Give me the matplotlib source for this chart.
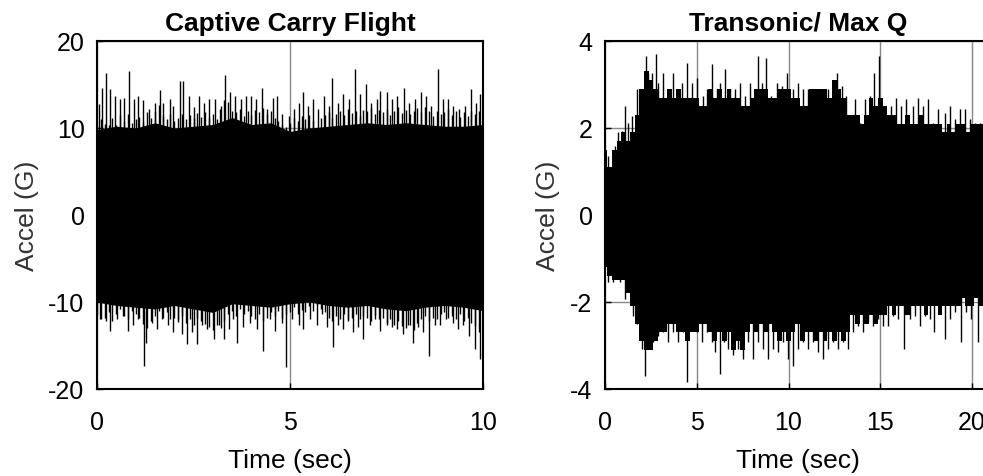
import matplotlib.pyplot as plt
import numpy as np

plt.rcParams['font.family'] = ['Liberation Sans', 'DejaVu Sans']
plt.rcParams['axes.unicode_minus'] = False

# ---- Captive Carry Flight (left) ----
# solid core of the trace (every 0.5 s)
cc_core_t = np.arange(0, 10.001, 0.5)
cc_core_hi = [9.8, 10.2, 10.0, 10.6, 10.0, 10.2, 10.4, 11.2, 10.4, 10.6, 9.6,
              10.0, 10.2, 10.4, 10.6, 10.4, 10.6, 10.4, 10.2, 10.2, 10.4]
cc_core_lo = [-10.0, -10.4, -10.6, -10.8, -10.4, -10.8, -11.2, -10.2, -10.4, -10.6, -10.2,
              -10.0, -10.4, -10.6, -10.4, -10.8, -11.0, -10.6, -10.4, -10.6, -11.0]

# fringe peaks (every 0.1 s)
cc_env_t = np.arange(0, 10.001, 0.1)
cc_env_hi = [10.2, 11.0, 10.5, 10.4, 11.2, 10.3, 11.5, 10.8, 11.6, 10.6,
             11.0, 11.3, 10.7, 11.8, 11.2, 12.0, 12.6, 11.4, 11.0, 11.6,
             10.8, 11.2, 11.6, 11.0, 11.5, 11.1, 11.7, 11.3, 11.8, 11.2,
             11.6, 11.0, 12.5, 13.2, 13.0, 12.0, 11.8, 12.2, 11.4, 11.9,
             11.5, 12.1, 11.8, 12.3, 11.6, 12.0, 11.2, 10.8, 10.4, 10.1,
             10.6, 11.2, 10.8, 11.4, 11.0, 11.5, 10.9, 9.6, 11.2, 11.5,
             11.8, 11.2, 11.6, 12.0, 11.5, 12.2, 11.7, 12.0, 11.4, 12.1,
             11.9, 12.3, 11.6, 12.1, 11.8, 12.2, 11.5, 11.9, 12.4, 11.7,
             12.1, 11.6, 12.0, 12.3, 11.8, 12.4, 11.9, 11.4, 12.0, 11.6,
             11.8, 12.2, 11.5, 11.9, 11.3, 11.8, 11.4, 12.0, 11.6, 11.9,
             12.0]
cc_env_lo = [-11.5, -12.0, -11.8, -11.2, -12.2, -11.4, -10.8, -11.6, -12.0, -11.0,
             -11.4, -11.8, -12.5, -13.0, -12.2, -11.6, -11.0, -11.8, -11.2, -12.0,
             -11.8, -12.3, -11.6, -12.4, -12.0, -12.6, -11.8, -12.2, -12.5, -12.9,
             -13.2, -12.6, -13.0, -12.2, -11.4, -11.0, -11.6, -10.8, -11.4, -11.0,
             -11.6, -12.0, -11.4, -12.2, -11.8, -11.2, -11.6, -11.0, -11.8, -11.4,
             -11.2, -10.6, -11.4, -10.9, -11.2, -10.5, -11.0, -10.4, -10.8, -11.2,
             -11.8, -12.2, -11.6, -12.0, -11.4, -12.2, -11.8, -11.4, -12.0, -11.6,
             -11.8, -12.2, -11.5, -12.0, -11.8, -12.4, -12.0, -12.6, -12.2, -12.8,
             -13.0, -12.6, -13.2, -12.4, -12.0, -11.6, -12.2, -11.8, -12.0, -11.4,
             -11.2, -11.8, -11.6, -12.0, -11.4, -12.2, -11.8, -12.4, -12.8, -13.4,
             -14.0]

# tall isolated spikes
cc_up_t = [0.04, 0.13, 0.24, 0.34, 0.47, 0.60, 0.71, 0.84, 0.95, 1.05, 1.19, 1.34,
           1.51, 1.62, 1.72, 1.88, 1.98, 2.14, 2.24, 2.37, 2.50, 2.65, 2.78, 2.91,
           3.06, 3.19, 3.32, 3.45, 3.58, 3.72, 3.85, 3.98, 4.12, 4.27, 4.40, 4.55,
           4.66, 4.78, 4.98, 5.09, 5.22, 5.34, 5.47, 5.60, 5.73, 5.88, 6.00, 6.10,
           6.23, 6.38, 6.53, 6.68, 6.81, 6.97, 7.09, 7.24, 7.34, 7.50, 7.63, 7.78,
           7.96, 8.09, 8.23, 8.38, 8.53, 8.66, 8.84, 8.97, 9.09, 9.22, 9.38, 9.53,
           9.70, 9.81, 9.91]
cc_up_v = [12.7, 14.6, 16.3, 14.5, 13.7, 13.3, 13.5, 16.6, 13.3, 13.7, 13.2, 12.2,
           12.9, 14.4, 12.9, 13.3, 12.5, 15.4, 15.4, 13.7, 12.4, 13.7, 12.9, 13.3,
           13.3, 12.2, 16.1, 14.1, 13.7, 13.3, 13.7, 13.7, 13.3, 14.6, 12.2, 13.5,
           13.7, 11.6, 11.4, 12.2, 12.9, 14.1, 12.5, 13.3, 12.2, 13.7, 12.5, 15.8,
           12.9, 13.9, 13.3, 16.8, 13.9, 15.0, 12.9, 13.3, 14.3, 14.1, 13.3, 13.7,
           14.6, 12.9, 13.3, 14.1, 13.7, 12.5, 16.8, 13.3, 13.3, 12.5, 12.2, 12.5,
           14.5, 12.9, 13.9]
cc_dn_t = [0.09, 0.22, 0.34, 0.52, 0.67, 0.80, 0.93, 1.06, 1.21, 1.27, 1.42, 1.55,
           1.68, 1.85, 1.98, 2.11, 2.20, 2.33, 2.46, 2.59, 2.72, 2.84, 3.02, 3.15,
           3.28, 3.41, 3.53, 3.62, 3.79, 3.97, 4.14, 4.31, 4.48, 4.61, 4.78, 4.90,
           5.04, 5.22, 5.34, 5.52, 5.69, 5.84, 5.95, 6.12, 6.25, 6.38, 6.51, 6.64,
           6.77, 6.90, 7.07, 7.20, 7.33, 7.50, 7.63, 7.76, 7.93, 8.06, 8.19, 8.32,
           8.45, 8.60, 8.75, 8.88, 9.05, 9.22, 9.36, 9.48, 9.64, 9.78, 9.91]
cc_dn_v = [-12.0, -12.2, -13.3, -12.0, -11.6, -13.3, -12.7, -12.0, -17.3, -14.7, -12.4, -13.1,
           -12.0, -12.7, -13.5, -12.0, -13.7, -14.8, -13.5, -14.8, -12.7, -13.1, -14.3, -12.6,
           -14.3, -13.1, -12.0, -14.7, -12.9, -12.4, -13.1, -15.6, -12.0, -13.3, -12.4, -17.5,
           -12.0, -12.6, -13.1, -12.0, -12.7, -11.4, -12.9, -15.2, -12.6, -13.1, -12.0, -13.5,
           -12.9, -14.3, -12.6, -12.0, -13.3, -12.6, -12.9, -13.1, -13.7, -12.6, -14.7, -12.9,
           -13.5, -16.2, -12.6, -12.7, -12.0, -12.4, -13.1, -12.6, -13.9, -15.4, -16.6]

# ---- Transonic / Max Q (right) ----
tq_env_t = np.arange(0, 21.001, 0.25)
tq_env_hi = [1.5, 1.1, 1.5, 1.7, 1.9, 1.7, 1.9, 2.3, 2.9, 3.3, 3.1, 2.9,
             2.7, 2.7, 2.9, 2.7, 2.9, 2.7, 2.7, 2.7, 2.7, 2.5, 2.5, 2.9,
             2.7, 2.9, 2.7, 2.9, 2.7, 2.7, 2.5, 2.5, 2.7, 2.9, 2.9, 2.9,
             2.7, 2.7, 2.9, 2.9, 2.9, 2.7, 2.7, 2.5, 2.5, 2.9, 2.9, 2.9,
             2.9, 2.7, 3.1, 2.9, 2.7, 2.3, 2.3, 2.3, 2.1, 2.3, 2.7, 2.5,
             2.7, 2.5, 2.3, 2.3, 2.1, 2.1, 2.3, 2.1, 2.1, 2.3, 2.1, 2.1,
             2.1, 2.1, 1.9, 2.1, 1.9, 2.1, 2.1, 1.9, 2.1, 2.1, 2.1, 1.9, 2.1]
tq_env_lo = [-1.2, -1.4, -1.5, -1.5, -1.5, -1.8, -2.1, -2.5, -2.9, -3.1, -3.1, -2.9,
             -2.7, -2.7, -2.5, -2.5, -2.7, -2.7, -2.9, -2.7, -2.7, -2.5, -2.5, -2.7,
             -2.9, -2.7, -2.9, -2.7, -3.1, -2.9, -3.1, -2.7, -2.5, -2.7, -2.5, -2.7,
             -2.5, -2.7, -2.9, -2.7, -2.9, -2.7, -2.5, -2.9, -2.7, -2.7, -2.9, -2.7,
             -2.9, -2.7, -2.9, -2.7, -2.9, -2.7, -2.3, -2.5, -2.3, -2.5, -2.3, -2.5,
             -2.3, -2.3, -2.1, -2.3, -2.1, -2.1, -2.3, -2.1, -2.1, -2.1, -2.3, -2.1,
             -2.1, -2.3, -2.1, -2.1, -2.1, -2.1, -1.9, -2.1, -2.1, -1.9, -2.1, -2.1, -2.1]

tq_up_t = [0.18, 0.54, 0.73, 0.90, 1.09, 1.27, 1.45, 1.72, 2.00, 2.21, 2.36, 2.54,
           2.76, 2.90, 3.18, 3.45, 3.68, 3.90, 4.17, 4.48, 4.72, 5.03, 5.35, 5.57,
           5.84, 6.08, 6.26, 6.53, 6.80, 7.08, 7.35, 7.62, 7.89, 8.17, 8.35, 8.53,
           8.80, 9.07, 9.35, 9.67, 9.93, 10.25, 10.53, 10.80, 11.07, 11.34, 11.62, 11.89,
           12.16, 12.43, 12.65, 12.89, 13.16, 13.43, 13.61, 13.88, 14.16, 14.43, 14.65, 14.92,
           15.25, 15.61, 15.88, 16.15, 16.42, 16.79, 17.06, 17.33, 17.60, 17.88, 18.15, 18.51,
           18.78, 19.06, 19.33, 19.60, 19.87, 20.15, 20.42]
tq_up_v = [1.36, 1.59, 1.90, 1.93, 2.50, 2.12, 2.28, 2.90, 2.90, 3.66, 3.27, 3.27,
           3.69, 3.04, 3.27, 2.81, 3.27, 2.90, 3.04, 3.50, 3.04, 3.16, 2.74, 2.90,
           3.47, 2.90, 3.04, 3.35, 2.90, 2.90, 3.04, 2.74, 3.04, 2.90, 3.66, 3.04,
           3.62, 2.74, 3.04, 2.97, 3.27, 2.90, 3.04, 2.90, 2.90, 2.90, 2.90, 2.90,
           2.90, 3.04, 3.27, 2.97, 2.74, 2.12, 2.66, 2.12, 2.66, 2.74, 3.27, 3.66,
           2.50, 2.50, 2.70, 2.50, 2.66, 2.50, 2.70, 2.50, 2.66, 2.12, 2.43, 2.35,
           2.50, 2.20, 2.43, 2.43, 2.20, 2.12, 2.12]
tq_dn_t = [0.18, 0.45, 0.82, 1.09, 1.36, 1.54, 1.72, 2.00, 2.18, 2.36, 2.63, 2.90,
           3.18, 3.45, 3.72, 3.99, 4.23, 4.48, 4.72, 4.99, 5.26, 5.54, 5.81, 5.99,
           6.26, 6.48, 6.72, 6.99, 7.26, 7.53, 7.80, 8.08, 8.35, 8.62, 8.89, 9.17,
           9.44, 9.71, 9.98, 10.25, 10.53, 10.80, 11.07, 11.34, 11.62, 11.89, 12.16, 12.43,
           12.70, 12.98, 13.25, 13.52, 13.79, 14.07, 14.34, 14.61, 14.88, 15.15, 15.43, 15.70,
           15.97, 16.30, 16.61, 16.88, 17.15, 17.42, 17.69, 17.93, 18.24, 18.51, 18.78, 19.06,
           19.38, 19.69, 19.96, 20.33]
tq_dn_v = [-1.55, -1.55, -1.55, -1.93, -1.78, -2.32, -2.51, -3.08, -3.69, -3.08, -2.93, -2.78,
           -2.70, -2.93, -2.70, -2.93, -2.70, -3.85, -2.55, -2.70, -2.93, -2.70, -2.93, -3.16,
           -3.66, -2.93, -3.08, -3.23, -3.08, -3.31, -2.93, -3.31, -2.93, -3.08, -3.31, -3.08,
           -3.16, -2.93, -3.31, -3.47, -3.08, -2.93, -3.08, -2.93, -3.16, -3.31, -3.08, -2.93,
           -3.08, -2.93, -3.08, -2.70, -2.55, -2.70, -2.47, -2.55, -2.39, -2.55, -2.55, -2.32,
           -2.39, -3.08, -2.39, -2.32, -2.55, -2.32, -2.39, -2.70, -2.24, -2.85, -2.39, -2.24,
           -2.93, -2.24, -2.39, -2.93]


def draw_spikes(ax, up_t, up_v, dn_t, dn_v):
    ax.vlines(up_t, 0, up_v, color='black', lw=1.0, zorder=2)
    ax.vlines(dn_t, dn_v, 0, color='black', lw=1.0, zorder=2)


def style_axes(ax, title):
    ax.set_title(title, fontsize=19, fontweight='bold', pad=8)
    ax.set_xlabel('Time (sec)', fontsize=19, labelpad=10)
    ax.set_ylabel('Accel (G)', fontsize=19, color='#333333', labelpad=7)
    ax.tick_params(direction='in', length=4, labelsize=18, width=1)
    ax.tick_params(axis='x', pad=15)
    ax.tick_params(axis='y', pad=9)
    ax.grid(True, color='#888888', lw=1.0)
    ax.set_axisbelow(True)
    for s in ax.spines.values():
        s.set_linewidth(1.5)


fig = plt.figure(figsize=(9.83, 4.77), dpi=100)

ax1 = fig.add_axes([0.0987, 0.1824, 0.3927, 0.7296])
ax1.fill_between(cc_core_t, cc_core_lo, cc_core_hi, color='black', lw=0, zorder=2)
ax1.vlines(cc_env_t, cc_env_lo, cc_env_hi, color='black', lw=1.0, zorder=2)
draw_spikes(ax1, cc_up_t, cc_up_v, cc_dn_t, cc_dn_v)
ax1.set_xlim(0, 10)
ax1.set_ylim(-20, 20)
ax1.set_xticks([0, 5, 10])
ax1.set_yticks([-20, -10, 0, 10, 20])
style_axes(ax1, 'Captive Carry Flight')

ax2 = fig.add_axes([0.6155, 0.1824, 0.3927, 0.7296])
ax2.fill_between(tq_env_t, tq_env_lo, tq_env_hi, step='mid', color='black', lw=0, zorder=2)
draw_spikes(ax2, tq_up_t, tq_up_v, tq_dn_t, tq_dn_v)
ax2.set_xlim(0, 21.04)
ax2.set_ylim(-4, 4)
ax2.set_xticks([0, 5, 10, 15, 20])
ax2.set_yticks([-4, -2, 0, 2, 4])
style_axes(ax2, 'Transonic/ Max Q')

fig.savefig('out.png', dpi=100)
